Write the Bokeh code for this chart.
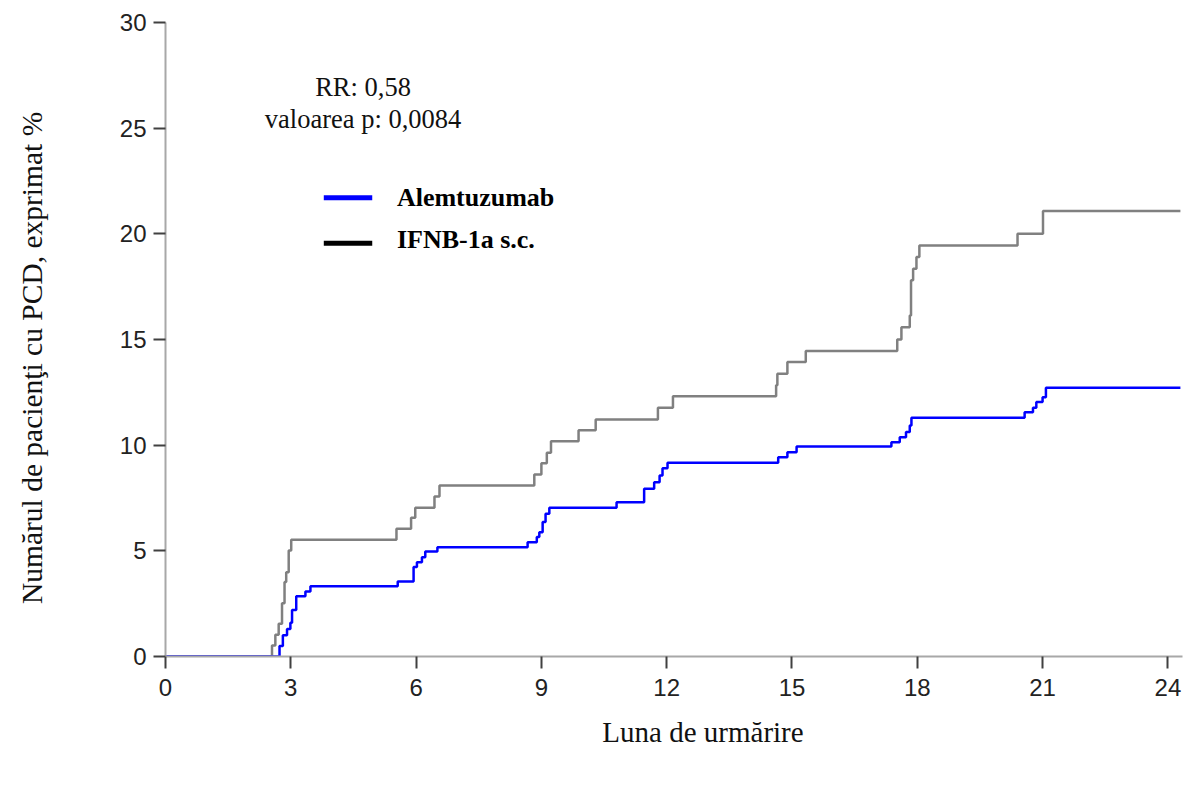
from bokeh.plotting import figure
from bokeh.models import Range1d, FixedTicker, ColumnDataSource
from bokeh.core.properties import value
from bokeh.embed import file_html
from bokeh.resources import INLINE

# ---- data ----
alem_t = [0, 2.73, 2.81, 2.91, 2.99, 3.03, 3.13, 3.35, 3.47, 5.56, 5.94, 6.02, 6.14, 6.22, 6.51,
          8.67, 8.89, 8.95, 9.03, 9.10, 9.19, 10.80, 11.46, 11.70, 11.83, 11.90, 12.02,
          14.67, 14.89, 15.11, 17.38, 17.58, 17.73, 17.82, 17.86, 20.57, 20.77, 20.85, 21.00, 21.08, 24.30]
alem_v = [0, 0.50, 1.00, 1.30, 1.60, 2.20, 2.85, 3.08, 3.33, 3.55, 4.23, 4.46, 4.70, 4.97, 5.17,
          5.41, 5.65, 5.88, 6.36, 6.75, 7.04, 7.30, 7.94, 8.25, 8.57, 8.91, 9.17,
          9.43, 9.67, 9.94, 10.14, 10.38, 10.62, 10.93, 11.30, 11.56, 11.77, 12.04, 12.27, 12.72, 12.72]

ifnb_t = [0, 2.55, 2.63, 2.71, 2.79, 2.85, 2.89, 2.95, 3.01, 5.53, 5.88, 5.98, 6.44, 6.56,
          8.83, 9.00, 9.13, 9.23, 9.89, 10.30, 11.79, 12.15, 14.62, 14.65, 14.89, 15.33,
          17.52, 17.62, 17.82, 17.85, 17.90, 17.98, 18.05, 20.40, 21.01, 24.30]
ifnb_v = [0, 0.52, 1.03, 1.55, 2.52, 3.52, 3.99, 5.02, 5.52, 6.04, 6.56, 7.04, 7.57, 8.09,
          8.61, 9.15, 9.64, 10.19, 10.70, 11.22, 11.77, 12.32, 12.83, 13.38, 13.93, 14.45,
          15.00, 15.58, 16.14, 17.80, 18.35, 18.90, 19.45, 20.00, 21.08, 21.08]

x_ticks = [0, 3, 6, 9, 12, 15, 18, 21, 24]
y_ticks = [0, 5, 10, 15, 20, 25, 30]

series_names = ["Alemtuzumab", "IFNB-1a s.c."]
stats_lines = ["RR: 0,58", "valoarea p: 0,0084"]
x_label = "Luna de urmărire"
y_label = "Numărul de pacienţi cu PCD, exprimat %"

SERIF = "Liberation Serif"
SANS = "Liberation Sans"

W, H = 1188, 782
p = figure(width=W, height=H, output_backend="svg", toolbar_location=None,
           x_range=Range1d(0, 24.35), y_range=Range1d(0, 30),
           min_border_left=165, min_border_right=6, min_border_top=22, min_border_bottom=H - 656)
p.outline_line_color = None
p.xgrid.visible = False
p.ygrid.visible = False
p.background_fill_color = "white"
p.border_fill_color = "white"

p.step(ifnb_t, ifnb_v, mode="after", line_color="#808080", line_width=2.5)
p.step(alem_t, alem_v, mode="after", line_color="#0000ff", line_width=2.5)

for ax in (p.xaxis[0], p.yaxis[0]):
    ax.axis_line_color = "#a8a8a8"
    ax.axis_line_width = 2
    ax.major_tick_line_color = "#404040"
    ax.major_tick_line_width = 2
    ax.major_tick_out = 12
    ax.major_tick_in = 0
    ax.minor_tick_line_color = None
    ax.major_label_text_font = SANS
    ax.major_label_text_font_size = "24px"
    ax.major_label_text_color = "#222222"
    ax.axis_label_text_font = SERIF
    ax.axis_label_text_font_style = "normal"
    ax.axis_label_text_color = "#111111"

p.xaxis.axis_label_text_font_size = "29px"
p.yaxis.axis_label_text_font_size = "29.5px"
p.xaxis.ticker = FixedTicker(ticks=x_ticks)
p.yaxis.ticker = FixedTicker(ticks=y_ticks)
# non-breaking padding shifts the centred axis labels, as placed in the reference
p.xaxis.axis_label = "\u00a0" * 8 + x_label
p.yaxis.axis_label = y_label + "\u00a0" * 5
p.xaxis.major_label_standoff = 10
p.yaxis.major_label_standoff = 7
p.xaxis.axis_label_standoff = 17
p.yaxis.axis_label_standoff = 69

# stats text
p.text(x=[4.73, 4.73], y=[26.93, 25.43], text=stats_lines, text_font=value(SERIF),
       text_font_size="26.5px", text_align="center", text_baseline="alphabetic", text_color="#111111")

# manual legend
leg = ColumnDataSource(dict(x0=[3.79, 3.79], x1=[4.95, 4.95], y=[21.71, 19.56],
                            color=["#0000ff", "#000000"], tx=[5.54, 5.54], ty=[21.73, 19.73],
                            name=series_names))
p.segment(x0="x0", y0="y", x1="x1", y1="y", line_color="color", line_width=5, source=leg)
p.text(x="tx", y="ty", text="name", source=leg, text_font=value(SERIF), text_font_size="26px",
       text_font_style="bold", text_baseline="alphabetic", text_color="#000000")

open("out.html", "w").write(file_html(p, INLINE))
